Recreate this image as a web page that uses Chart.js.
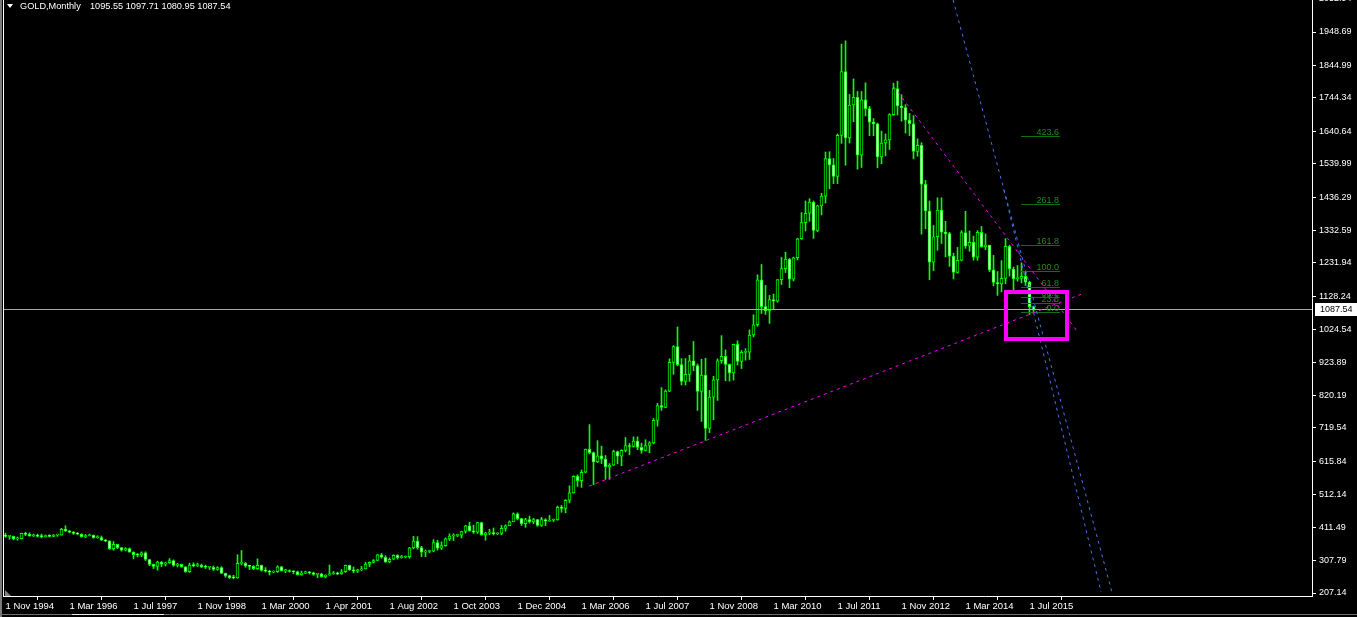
<!DOCTYPE html>
<html><head><meta charset="utf-8">
<script src="https://cdn.jsdelivr.net/npm/chart.js@4.4.1/dist/chart.umd.min.js"></script>
<style>html,body{margin:0;padding:0;background:#000;overflow:hidden}canvas{display:block}</style>
</head><body><canvas id="c" width="1357" height="617"></canvas>
<script>
// ---- data (monthly GOLD candles, Nov 1994 .. Aug 2015, one entry per bar) ----
const opens=[383.5,383.1,383.3,375,376,392,389,385,387,383,382,384,383,387,
387,405,400,396,392,390,382,385,387,379,379,371,
369,345,358,348,340,345,334,326,325,332,311,296,
290,303,297,301,308,293,296,288,273,294,292,294,
288,287,287,280,286,268,261,255,254,299,299,291,
290,283,293,277,275,272,273,288,276,277,274,273,264,269,273,270,265,267,
258,263,267,270,266,273,293,279,275,279,282,297,302,308,326,318,
304,312,324,317,319,320,347,368,348,334,336,337,364,346,354,375,
384,386,387,398,416,400,396,426,388,393,395,391,392,408,416,428,
453,438,422,435,428,435,417,435,430,433,434,473,470,495,518,569,
556,582,654,643,614,633,623,599,604,646,632,650,665,662,679,659,
650,665,673,743,789,783,834,923,972,916,864,886,928,913,833,884,
718,815,869,928,942,917,890,979,926,954,955,1008,1040,1179,1096,1083,
1118,1113,1180,1214,1244,1181,1248,1307,1357,1386,1421,1333,1409,1439,1556,1536,
1500,1628,1826,1620,1722,1746,1566,1738,1711,1669,1664,1561,1604,1614,1692,1773,
1719,1714,1675,1664,1578,1597,1476,1393,1234,1313,1396,1327,1323,1253,1202,1240,
1326,1284,1296,1250,1327,1282,1287,1210,1171,1167,1184,1283,1213,1183,1184,1190,
1172,1095.55];
const highs=[393,385,384,381,393,396,394,390,390,390,387,388,389,390,
408,416,401,398,395,391,389,390,387,385,384,373,
369,367,358,348,348,347,335,330,335,335,312,297,
306,305,303,314,310,299,297,289,300,301,300,297,
294,290,291,289,289,269,263,262,326,339,302,293,
292,313,294,286,278,276,292,290,281,279,276,275,275,275,274,272,268,268,
264,294,274,272,280,294,294,288,281,290,302,304,311,327,330,323,
316,326,326,324,322,349,383,382,352,341,340,373,371,366,378,391,
391,390,399,417,427,418,427,427,396,405,409,394,417,419,431,456,
456,439,439,446,439,436,442,438,448,437,477,479,497,540,571,574,
589,654,730,645,680,663,634,609,650,648,652,690,672,692,692,672,
683,677,749,796,845,838,934,975,1033,935,935,945,988,918,933,936,
836,880,934,1006,962,918,980,990,960,966,1024,1071,1195,1227,1162,1131,
1135,1180,1249,1265,1246,1250,1308,1388,1424,1431,1424,1411,1448,1576,1577,1556,
1632,1911,1921,1755,1803,1764,1764,1791,1718,1680,1666,1641,1632,1695,1790,1796,
1754,1723,1696,1689,1617,1605,1488,1424,1348,1434,1434,1361,1327,1262,1280,1332,
1392,1331,1315,1332,1345,1322,1287,1255,1205,1239,1307,1287,1219,1224,1232,1205,
1175,1097.71];
const lows=[380,374,372,371,375,385,383,382,381,378,381,381,382,383,
387,398,394,389,389,380,379,384,377,377,370,366,
342,340,345,337,338,334,313,319,320,308,292,283,
278,289,291,299,290,288,287,271,271,288,289,286,
283,280,277,278,268,256,252,251,253,294,287,280,
280,280,275,272,263,270,271,275,270,272,267,263,262,267,266,262,255,256,
254,262,265,264,265,271,277,270,271,276,282,289,300,308,315,302,
301,311,312,315,316,315,344,343,320,320,332,335,340,342,352,370,
370,382,378,393,399,392,392,386,371,388,387,388,388,399,416,428,
434,417,411,424,422,414,414,416,430,429,433,458,456,487,517,538,
535,580,639,543,612,609,560,560,603,608,602,645,636,660,652,641,
648,643,670,725,774,782,832,886,912,853,853,864,897,774,740,681,
705,745,805,920,866,865,868,915,904,930,932,1002,1035,1075,1072,1044,
1088,1110,1165,1202,1155,1176,1241,1305,1331,1361,1308,1329,1381,1418,1462,1478,
1478,1603,1535,1604,1670,1523,1528,1688,1627,1627,1527,1540,1564,1584,1690,1691,
1672,1635,1627,1555,1563,1321,1338,1180,1208,1271,1292,1251,1221,1182,1200,1238,
1277,1268,1240,1240,1280,1273,1205,1161,1131,1142,1167,1191,1142,1175,1170,1162,
1072,1080.95];
const closes=[383.1,383.3,375,376,392,389,385,387,383,382,384,383,387,387,
405,400,396,392,390,382,385,387,379,379,371,369,
345,358,348,340,345,334,326,325,332,311,296,290,
303,297,301,308,293,296,288,273,294,292,294,288,
287,287,280,286,268,261,255,254,299,299,291,290,
283,293,277,275,272,273,288,276,277,274,273,264,269,273,270,265,267,258,
263,267,270,266,273,293,279,275,279,282,297,302,308,326,318,304,
312,324,317,319,320,347,368,348,334,336,337,364,346,354,375,384,
386,387,398,416,400,396,426,388,393,395,391,392,408,416,428,453,
438,422,435,428,435,417,435,430,433,434,473,470,495,518,569,556,
582,654,643,614,633,623,599,604,646,632,650,665,662,679,659,650,
665,673,743,789,783,834,923,972,916,864,886,928,913,833,884,718,
815,869,928,942,917,890,979,926,954,955,1008,1040,1179,1096,1083,1118,
1113,1180,1214,1244,1181,1248,1307,1357,1386,1421,1333,1409,1439,1556,1536,1500,
1628,1826,1620,1722,1746,1566,1738,1711,1669,1664,1561,1604,1614,1692,1773,1719,
1714,1675,1664,1578,1597,1476,1393,1234,1313,1396,1327,1323,1253,1202,1240,1326,
1284,1296,1250,1327,1282,1287,1210,1171,1167,1184,1283,1213,1183,1184,1190,1172,
1095,1087.54];
const xTickLabels=["1 Nov 1994","1 Mar 1996","1 Jul 1997","1 Nov 1998","1 Mar 2000","1 Apr 2001","1 Aug 2002","1 Oct 2003","1 Dec 2004","1 Mar 2006","1 Jul 2007","1 Nov 2008","1 Mar 2010","1 Jul 2011","1 Nov 2012","1 Mar 2014","1 Jul 2015"];
const xTickEvery=16;
const priceTicks=[2052.94,1948.69,1844.99,1744.34,1640.64,1539.99,1436.29,1332.59,1231.94,1128.24,1024.54,923.89,820.19,719.54,615.84,512.14,411.49,307.79,207.14];
const symbolTitle="GOLD,Monthly";
const lastBar=[1095.55,1097.71,1080.95,1087.54];
// Fibonacci expansion (levels in %, base price and range)
const fibLevels=[0,23.6,38.2,61.8,100,161.8,261.8,423.6];
const fibBase=1078.2, fibRange=129.1, fibFrom=253.9, fibTo=263.6;
// drawn objects: [barIndex, price] end points
const magentaUpper=[[222.1,1779],[267.9,1020]];
const magentaLower=[[145.9,539],[269.6,1138]];
const blueA=[[236.9,2048],[276.6,210]];
const blueB=[[249.6,1458],[273.9,210]];
const boxCorners=[[250.1,1141.5],[265.4,995.7]];

const bodyData=closes.map((c,i)=>({x:i,y:[opens[i],c]}));
const wickData=closes.map((c,i)=>({x:i,y:[lows[i],highs[i]]}));
const FONT='"Liberation Sans", Arial, sans-serif';

const overlay={id:'overlay',
 beforeDraw(chart){const c=chart.ctx;c.save();c.fillStyle='#000';c.fillRect(0,0,chart.width,chart.height);c.restore();},
 afterDatasetsDraw(chart){
  const ctx=chart.ctx,a=chart.chartArea,X=chart.scales.x,Y=chart.scales.y;
  const px=i=>X.getPixelForValue(i), py=p=>Y.getPixelForValue(p);
  const line=(pts,color,dash,w)=>{ctx.beginPath();ctx.setLineDash(dash);ctx.strokeStyle=color;ctx.lineWidth=w||1;
    ctx.moveTo(px(pts[0][0]),py(pts[0][1]));ctx.lineTo(px(pts[1][0]),py(pts[1][1]));ctx.stroke();};
  ctx.save();
  ctx.beginPath();ctx.rect(a.left,a.top,a.right-a.left,a.bottom-a.top);ctx.clip();
  // current price line
  const yp=Math.round(py(lastBar[3]))+0.5;
  ctx.setLineDash([]);ctx.strokeStyle='#a8a8a8';ctx.lineWidth=1;
  ctx.beginPath();ctx.moveTo(a.left,yp);ctx.lineTo(a.right,yp);ctx.stroke();
  // fibo
  ctx.font='9px '+FONT;ctx.textAlign='right';ctx.textBaseline='alphabetic';
  fibLevels.forEach(L=>{
    const y=Math.round(py(fibBase+fibRange*L/100))+0.5;
    ctx.setLineDash([]);ctx.strokeStyle='#0f6e0f';ctx.lineWidth=1;
    ctx.beginPath();ctx.moveTo(Math.round(px(fibFrom)),y);ctx.lineTo(Math.round(px(fibTo)),y);ctx.stroke();
    ctx.fillStyle='#1f8a1f';ctx.fillText(L.toFixed(1),Math.round(px(fibTo))-1,y-2);
  });
  // trend lines
  line(blueA,'#4a6ff0',[3,4]);
  line(blueB,'#4a6ff0',[3,4]);
  line(magentaUpper,'#ff00ff',[3,4]);
  line(magentaLower,'#ff00ff',[3,4]);
  // rectangle
  ctx.setLineDash([]);ctx.strokeStyle='#ff00ff';ctx.lineWidth=4;
  const bx0=px(boxCorners[0][0]),by0=py(boxCorners[0][1]),bx1=px(boxCorners[1][0]),by1=py(boxCorners[1][1]);
  ctx.strokeRect(Math.round(bx0),Math.round(by0),Math.round(bx1-bx0),Math.round(by1-by0));
  ctx.restore();

  ctx.save();
  // left frame
  ctx.fillStyle='#7a7a7a';ctx.fillRect(0,0,2,chart.height);
  ctx.fillStyle='#ffffff';ctx.fillRect(3,0,1,Math.round(a.bottom)+1);
  // small grey corner marker
  ctx.fillStyle='#808080';ctx.beginPath();ctx.moveTo(5,590);ctx.lineTo(5,596);ctx.lineTo(11,596);ctx.closePath();ctx.fill();
  // bottom strip
  ctx.fillStyle='#6e6e6e';ctx.fillRect(0,614,chart.width,1);
  ctx.fillStyle='#e8e8e8';ctx.fillRect(72,614,92,1);
  // price label box
  ctx.fillStyle='#ffffff';ctx.fillRect(a.right+3,yp-6.5,chart.width-a.right-3,13);
  ctx.fillStyle='#000';ctx.font='9px '+FONT;ctx.textAlign='left';ctx.textBaseline='middle';
  ctx.fillText(lastBar[3].toFixed(2),a.right+8,yp+0.5);
  // title
  ctx.fillStyle='#fff';ctx.beginPath();ctx.moveTo(7,4);ctx.lineTo(13,4);ctx.lineTo(10,8);ctx.closePath();ctx.fill();
  ctx.font='9.2px '+FONT;ctx.textBaseline='middle';
  ctx.fillText(symbolTitle,20,6.5);
  ctx.fillText(lastBar.map(v=>v.toFixed(2)).join(' '),90,6.5);
  ctx.restore();
 }
};

new Chart(document.getElementById('c'),{
 type:'bar',
 data:{datasets:[
  {data:wickData,backgroundColor:'#00ff00',borderWidth:0,barThickness:1,grouped:false,order:2},
  {data:bodyData,backgroundColor:c=>closes[c.dataIndex]>=opens[c.dataIndex]?'#000000':'#ffffff',
   borderColor:'#00ff00',borderWidth:1,borderSkipped:false,barThickness:3,minBarLength:1,grouped:false,order:1}
 ]},
 options:{responsive:false,animation:false,devicePixelRatio:1,
  layout:{padding:{left:4,top:0,right:0,bottom:0}},
  plugins:{legend:{display:false},tooltip:{enabled:false}},
  scales:{
   x:{type:'linear',min:-0.375,max:326.625,offset:false,
      grid:{display:true,drawOnChartArea:false,drawTicks:true,tickLength:4,color:'#ffffff'},
      border:{display:true,color:'#ffffff'},
      ticks:{autoSkip:false,maxRotation:0,minRotation:0,align:'start',padding:1,color:'#ffffff',font:{size:9.5,family:FONT},
             callback:(v,i)=>xTickLabels[i]},
      afterBuildTicks:s=>{s.ticks=xTickLabels.map((_,i)=>({value:i*xTickEvery}));},
      afterFit:s=>{s.height=21;s.paddingLeft=0;s.paddingRight=0;}},
   y:{position:'right',min:197.83,max:2048.03,
      grid:{display:true,drawOnChartArea:false,drawTicks:true,tickLength:4,color:'#ffffff'},
      border:{display:true,color:'#ffffff'},
      ticks:{autoSkip:false,padding:3,color:'#ffffff',font:{size:9,family:FONT},callback:v=>Number(v).toFixed(2)},
      afterBuildTicks:s=>{s.ticks=priceTicks.map(v=>({value:v}));},
      afterFit:s=>{s.width=45;s.paddingTop=0;s.paddingBottom=0;}}
  }
 },
 plugins:[overlay]
});
</script></body></html>
